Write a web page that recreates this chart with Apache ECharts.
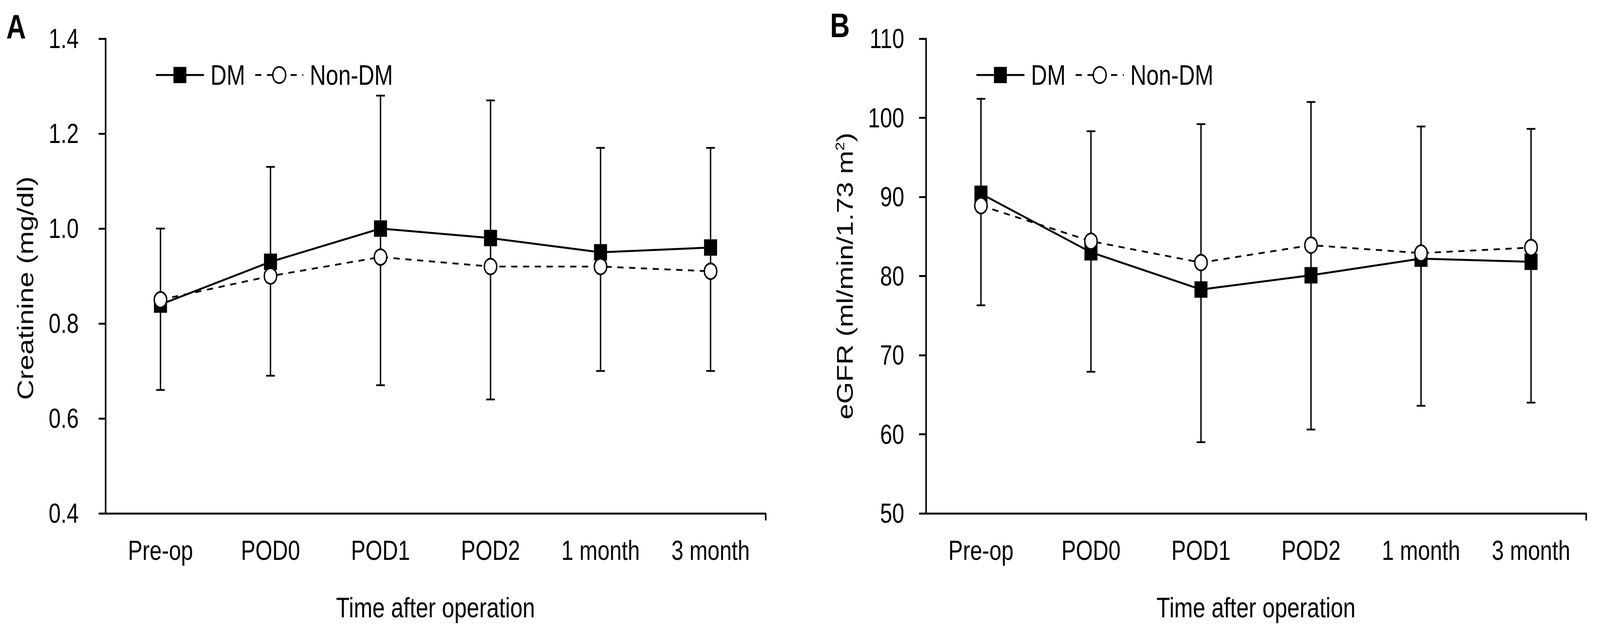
<!DOCTYPE html>
<html>
<head>
<meta charset="utf-8">
<script src="https://cdn.jsdelivr.net/npm/echarts@6/dist/echarts.min.js"></script>
<style>
html,body{margin:0;padding:0;background:#fff;overflow:hidden;width:100%;height:100%;}
#wrap{position:absolute;left:0;top:0;width:5158px;height:1615px;transform-origin:0 0;}
#c{width:5158px;height:1615px;}
</style>
</head>
<body>
<div id="wrap"><div id="c"></div></div>
<script>
var categories = ['Pre-op', 'POD0', 'POD1', 'POD2', '1 month', '3 month'];

var creatDM = [0.84, 0.93, 1.00, 0.98, 0.95, 0.96];
var creatNonDM = [0.85, 0.90, 0.94, 0.92, 0.92, 0.91];
var creatErrHigh = [1.00, 1.13, 1.28, 1.27, 1.17, 1.17];
var creatErrLow = [0.66, 0.69, 0.67, 0.64, 0.70, 0.70];

var egfrDM = [90.4, 83.0, 78.3, 80.1, 82.2, 81.8];
var egfrNonDM = [88.9, 84.4, 81.7, 83.9, 82.9, 83.6];
var egfrErrHigh = [102.4, 98.3, 99.2, 102.0, 98.9, 98.6];
var egfrErrLow = [76.3, 67.9, 59.0, 60.6, 63.6, 64.0];

var seriesNames = ['DM', 'Non-DM'];
var panelLetters = ['A', 'B'];

var DESIGN_W = 5158, DESIGN_H = 1615;
var FONT = '"Liberation Sans", Arial, Helvetica, sans-serif';
var BLACK = '#000';

// fit the full-size layout into the actual window
(function () {
  var sx = (window.innerWidth || DESIGN_W) / DESIGN_W;
  var sy = (window.innerHeight || DESIGN_H) / DESIGN_H;
  document.getElementById('wrap').style.transform = 'scale(' + sx + ',' + sy + ')';
})();

function errData(lo, hi) {
  return categories.map(function (c, i) { return [i, lo[i], hi[i]]; });
}

function renderErr(params, api) {
  var x = api.value(0);
  var lo = api.coord([x, api.value(1)]);
  var hi = api.coord([x, api.value(2)]);
  var cw = 14;
  var st = { stroke: BLACK, lineWidth: 4.5 };
  return {
    type: 'group',
    children: [
      { type: 'line', shape: { x1: hi[0], y1: hi[1], x2: lo[0], y2: lo[1] }, style: st },
      { type: 'line', shape: { x1: hi[0] - cw, y1: hi[1], x2: hi[0] + cw, y2: hi[1] }, style: st },
      { type: 'line', shape: { x1: lo[0] - cw, y1: lo[1], x2: lo[0] + cw, y2: lo[1] }, style: st }
    ]
  };
}

function catAxis(gi) {
  return {
    type: 'category', gridIndex: gi, data: categories, position: 'bottom',
    boundaryGap: true,
    name: 'Time after operation', nameLocation: 'middle', nameGap: 205,
    nameTextStyle: { fontSize: 72, color: BLACK, fontFamily: FONT },
    axisLine: { onZero: false, lineStyle: { color: BLACK, width: 5 } },
    axisTick: { alignWithLabel: true, length: 18, lineStyle: { color: BLACK, width: 5 } },
    axisLabel: { fontSize: 70, color: BLACK, fontFamily: FONT, margin: 60, interval: 0 },
    splitLine: { show: false }
  };
}

function endTickAxis(gi) {
  return {
    type: 'value', gridIndex: gi, position: 'bottom', min: 0, max: 1,
    axisLine: { show: false },
    axisLabel: { show: false },
    splitLine: { show: false },
    axisTick: { show: true, length: 18, customValues: [1], lineStyle: { color: BLACK, width: 5 } }
  };
}

function valAxis(gi, min, max, interval, name, nameGap, margin, decimals, namePad, rich) {
  return {
    type: 'value', gridIndex: gi, min: min, max: max, interval: interval,
    name: name, nameLocation: 'middle', nameGap: nameGap,
    nameTextStyle: { fontSize: 72, color: BLACK, fontFamily: FONT, padding: namePad, rich: rich },
    axisLine: { show: true, onZero: false, lineStyle: { color: BLACK, width: 5 } },
    axisTick: { show: true, length: 22, lineStyle: { color: BLACK, width: 5 } },
    axisLabel: {
      fontSize: 70, color: BLACK, fontFamily: FONT, margin: margin,
      formatter: function (v) { return v.toFixed(decimals); }
    },
    splitLine: { show: false }
  };
}

function lineSeries(gi, name, data, isDM) {
  return {
    type: 'line', name: name, xAxisIndex: gi * 2, yAxisIndex: gi, data: data,
    symbol: isDM ? 'rect' : 'circle',
    symbolSize: isDM ? 42 : 40,
    z: isDM ? 3 : 4,
    lineStyle: { color: BLACK, width: isDM ? 5 : 4.5, type: isDM ? 'solid' : [20, 18] },
    itemStyle: isDM ? { color: BLACK, borderWidth: 0 } : { color: '#fff', borderColor: BLACK, borderWidth: 4.5 },
    emphasis: { disabled: true },
    animation: false
  };
}

function errSeries(gi, lo, hi) {
  return {
    type: 'custom', xAxisIndex: gi * 2, yAxisIndex: gi, z: 2,
    data: errData(lo, hi), renderItem: renderErr,
    encode: { x: 0, y: [1, 2] }, silent: true, animation: false
  };
}

function legendAt(left) {
  return {
    left: left, top: 151, orient: 'horizontal',
    data: [
      { name: seriesNames[0], itemStyle: { borderWidth: 0 }, lineStyle: { width: 5, type: 'solid' } },
      { name: seriesNames[1], itemStyle: { borderWidth: 4.5, borderColor: BLACK, color: '#fff' }, lineStyle: { width: 4.5, type: [20, 18] } }
    ],
    itemWidth: 155, itemHeight: 52, itemGap: 30,
    selectedMode: false,
    textStyle: { fontSize: 72, color: BLACK, fontFamily: FONT, padding: [0, 0, 0, 16] }
  };
}

var option = {
  backgroundColor: '#fff',
  animation: false,
  textStyle: { fontFamily: FONT },
  grid: [
    { left: 340, top: 99, width: 2128, height: 1215, containLabel: false },
    { left: 2985, top: 99, width: 2128, height: 1215, containLabel: false }
  ],
  legend: [legendAt(495), legendAt(3140)],
  graphic: [
    { type: 'text', left: 20, top: 24, style: { text: panelLetters[0], font: 'bold 88px ' + FONT, fill: BLACK } },
    { type: 'text', left: 2676, top: 21, style: { text: panelLetters[1], font: 'bold 88px ' + FONT, fill: BLACK } }
  ],
  xAxis: [catAxis(0), endTickAxis(0), catAxis(1), endTickAxis(1)],
  yAxis: [
    valAxis(0, 0.4, 1.4, 0.2, 'Creatinine (mg/dl)', 222, 86, 1, [0, 62, 0, 0]),
    valAxis(1, 50, 110, 10, 'eGFR (ml/min/1.73 m{sup|2})', 225, 70, 0, [0, 0, 0, 0],
      { sup: { fontSize: 40, color: BLACK, fontFamily: FONT, verticalAlign: 'top' } })
  ],
  series: [
    errSeries(0, creatErrLow, creatErrHigh),
    lineSeries(0, seriesNames[0], creatDM, true),
    lineSeries(0, seriesNames[1], creatNonDM, false),
    errSeries(1, egfrErrLow, egfrErrHigh),
    lineSeries(1, seriesNames[0], egfrDM, true),
    lineSeries(1, seriesNames[1], egfrNonDM, false)
  ]
};

var chart = echarts.init(document.getElementById('c'), null, { renderer: 'svg', width: DESIGN_W, height: DESIGN_H });
chart.setOption(option);
</script>
</body>
</html>
